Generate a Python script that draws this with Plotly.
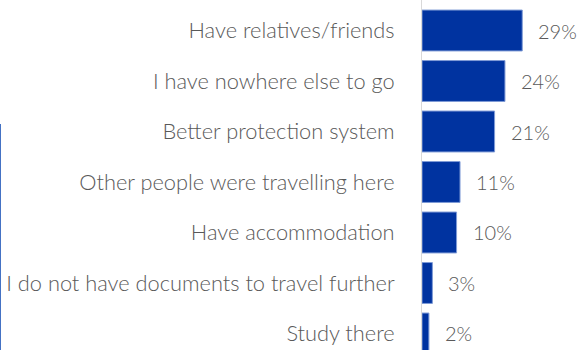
import plotly.graph_objects as go

categories = [
    "Have relatives/friends",
    "I have nowhere else to go",
    "Better protection system",
    "Other people were travelling here",
    "Have accommodation",
    "I do not have documents to travel further",
    "Study there",
]
values = [29, 24, 21, 11, 10, 3, 2]
value_labels = ["29%", "24%", "21%", "11%", "10%", "3%", "2%"]

FONT = "Lato"
GREY = "#595959"

fig = go.Figure(go.Bar(
    x=values, y=categories, orientation="h",
    marker=dict(color="#0033A0", line=dict(color="#7F9BD6", width=1)),
    width=0.81,
    hoverinfo="skip",
))

for c, v, t in zip(categories, values, value_labels):
    fig.add_annotation(x=v, y=c, text=t, showarrow=False, xanchor="left",
                       xshift=14, font=dict(family=FONT, size=20, color=GREY, weight=300))

fig.add_shape(type="line", xref="paper", yref="paper", x0=-422/159, x1=-422/159,
              y0=0, y1=(350-124)/350, line=dict(color="#4472C4", width=2))

fig.update_layout(
    width=581, height=350,
    margin=dict(l=422, r=0, t=0, b=0),
    paper_bgcolor="white", plot_bgcolor="white",
    showlegend=False,
    xaxis=dict(range=[0, 46], visible=False),
    yaxis=dict(
        type="category", categoryorder="array", categoryarray=categories,
        range=[6.327, -0.604],
        showgrid=False, zeroline=False,
        showline=True, linecolor="#D9D9D9", linewidth=1,
        ticks="", ticklabelstandoff=22,
        tickfont=dict(family=FONT, size=21.8, color=GREY, weight=300),
    ),
)

fig.write_html("out.html")
